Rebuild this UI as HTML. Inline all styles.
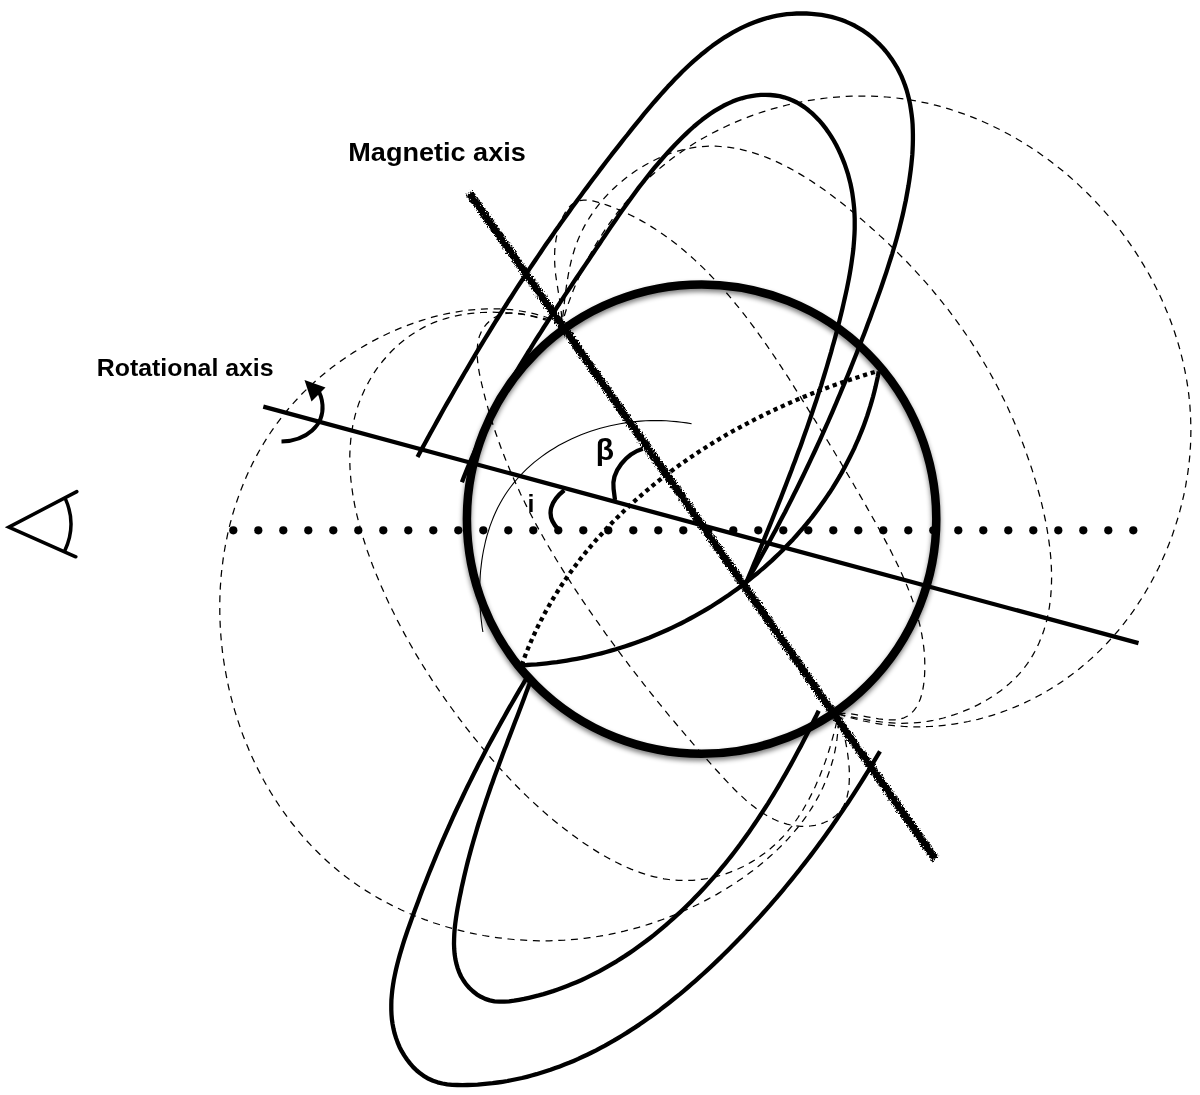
<!DOCTYPE html>
<html><head><meta charset="utf-8"><title>Oblique rotator</title>
<style>html,body{margin:0;padding:0;background:#fff}svg{display:block}</style></head>
<body>
<svg width="1200" height="1095" viewBox="0 0 1200 1095">
<defs>
<filter id="rough" x="-5%" y="-5%" width="110%" height="110%">
<feTurbulence type="fractalNoise" baseFrequency="0.4" numOctaves="2" seed="3" result="n"/>
<feDisplacementMap in="SourceGraphic" in2="n" scale="3.5" xChannelSelector="R" yChannelSelector="G"/>
</filter>
<filter id="fuzz" x="-5%" y="-5%" width="110%" height="110%">
<feTurbulence type="fractalNoise" baseFrequency="0.55" numOctaves="2" seed="11" result="n"/>
<feDisplacementMap in="SourceGraphic" in2="n" scale="5" xChannelSelector="R" yChannelSelector="G" result="d"/>
<feTurbulence type="fractalNoise" baseFrequency="0.7" numOctaves="1" seed="5" result="m"/>
<feColorMatrix in="m" type="matrix" values="0 0 0 0 0  0 0 0 0 0  0 0 0 0 0  0 0 0 9 -3.6" result="mask"/>
<feComposite in="d" in2="mask" operator="in"/>
</filter>
<filter id="shadow" x="-5%" y="-5%" width="110%" height="110%">
<feGaussianBlur in="SourceAlpha" stdDeviation="2.8" result="b"/>
<feOffset in="b" dx="0" dy="2.5" result="o"/>
<feComponentTransfer in="o" result="s"><feFuncA type="linear" slope="0.5"/></feComponentTransfer>
<feMerge><feMergeNode in="s"/><feMergeNode in="SourceGraphic"/></feMerge>
</filter>
</defs>
<rect width="1200" height="1095" fill="#fff"/>
<g fill="none" stroke="#000" stroke-width="1.25" stroke-dasharray="7 5.7" stroke-linejoin="round">
<path d="M562.0,323.5 L557.6,321.5 L553.1,319.7 L548.5,318.0 L544.0,316.5 L539.3,315.1 L534.7,313.9 L530.0,312.8 L525.3,311.8 L520.5,311.0 L515.8,310.3 L511.0,309.7 L506.1,309.3 L501.3,309.0 L496.4,308.8 L491.5,308.8 L486.6,308.9 L481.7,309.1 L476.8,309.4 L471.9,309.8 L466.9,310.4 L462.0,311.0 L457.1,311.8 L452.1,312.7 L447.2,313.6 L442.3,314.7 L437.3,315.9 L432.4,317.2 L427.5,318.6 L422.6,320.1 L417.8,321.6 L412.9,323.3 L408.1,325.1 L403.3,326.9 L398.5,328.9 L393.8,330.9 L389.1,333.0 L384.4,335.2 L379.7,337.5 L375.1,339.9 L370.5,342.3 L366.0,344.9 L361.5,347.5 L357.1,350.2 L352.7,352.9 L348.3,355.8 L344.1,358.7 L339.8,361.7 L335.6,364.7 L331.5,367.8 L327.5,371.0 L323.5,374.3 L319.5,377.6 L315.7,380.9 L311.9,384.4 L308.2,387.9 L304.5,391.4 L300.9,395.0 L297.5,398.7 L294.1,402.4 L290.7,406.2 L287.5,410.0 L284.3,413.9 L281.2,417.8 L278.2,421.8 L275.3,425.8 L272.4,429.9 L269.6,434.0 L266.9,438.1 L264.3,442.3 L261.8,446.6 L259.3,450.8 L256.9,455.1 L254.6,459.5 L252.3,463.9 L250.2,468.3 L248.1,472.8 L246.1,477.3 L244.2,481.8 L242.3,486.4 L240.5,491.0 L238.8,495.6 L237.2,500.2 L235.6,504.9 L234.1,509.6 L232.7,514.3 L231.4,519.1 L230.1,523.8 L228.9,528.6 L227.8,533.4 L226.8,538.3 L225.8,543.1 L224.9,548.0 L224.1,552.9 L223.3,557.8 L222.7,562.7 L222.0,567.6 L221.5,572.5 L221.0,577.5 L220.7,582.4 L220.3,587.4 L220.1,592.4 L219.9,597.3 L219.8,602.3 L219.8,607.3 L219.8,612.3 L219.9,617.3 L220.1,622.3 L220.3,627.2 L220.6,632.2 L221.0,637.2 L221.4,642.2 L222.0,647.2 L222.5,652.1 L223.2,657.1 L223.9,662.0 L224.7,667.0 L225.6,671.9 L226.5,676.8 L227.5,681.7 L228.5,686.6 L229.6,691.5 L230.8,696.3 L232.1,701.2 L233.4,706.0 L234.8,710.8 L236.3,715.6 L237.8,720.3 L239.4,725.1 L241.0,729.8 L242.7,734.5 L244.5,739.1 L246.4,743.7 L248.3,748.3 L250.2,752.9 L252.3,757.5 L254.4,762.0 L256.5,766.4 L258.8,770.9 L261.1,775.3 L263.4,779.7 L265.8,784.0 L268.3,788.3 L270.8,792.5 L273.4,796.7 L276.1,800.9 L278.8,805.0 L281.6,809.1 L284.5,813.2 L287.4,817.2 L290.3,821.1 L293.4,825.0 L296.5,828.8 L299.6,832.6 L302.8,836.4 L306.1,840.1 L309.4,843.7 L312.8,847.3 L316.3,850.8 L319.8,854.3 L323.3,857.7 L326.9,861.0 L330.6,864.3 L334.4,867.5 L338.2,870.7 L342.0,873.8 L345.9,876.8 L349.9,879.7 L353.9,882.6 L358.0,885.5 L362.1,888.2 L366.3,890.9 L370.6,893.5 L374.8,896.1 L379.2,898.6 L383.6,901.0 L388.0,903.3 L392.4,905.6 L397.0,907.8 L401.5,910.0 L406.1,912.0 L410.7,914.0 L415.4,916.0 L420.1,917.8 L424.8,919.6 L429.6,921.3 L434.3,923.0 L439.2,924.5 L444.0,926.1 L448.9,927.5 L453.8,928.8 L458.7,930.1 L463.6,931.3 L468.6,932.5 L473.6,933.6 L478.5,934.6 L483.5,935.5 L488.6,936.3 L493.6,937.1 L498.6,937.8 L503.7,938.4 L508.8,939.0 L513.8,939.5 L518.9,939.9 L524.0,940.2 L529.0,940.5 L534.1,940.7 L539.2,940.8 L544.3,940.8 L549.3,940.8 L554.4,940.6 L559.5,940.4 L564.5,940.2 L569.6,939.8 L574.6,939.4 L579.6,938.9 L584.6,938.3 L589.6,937.7 L594.6,937.0 L599.6,936.2 L604.5,935.3 L609.5,934.4 L614.4,933.4 L619.3,932.3 L624.2,931.2 L629.1,929.9 L633.9,928.7 L638.8,927.3 L643.6,925.9 L648.4,924.4 L653.2,922.8 L657.9,921.2 L662.6,919.5 L667.3,917.7 L672.0,915.9 L676.7,914.0 L681.3,912.0 L685.9,910.0 L690.5,907.9 L695.0,905.8 L699.5,903.6 L704.0,901.3 L708.4,898.9 L712.8,896.5 L717.2,894.1 L721.5,891.5 L725.9,888.9 L730.1,886.3 L734.4,883.6 L738.5,880.8 L742.7,877.9 L746.8,875.0 L750.8,872.1 L754.8,869.1 L758.7,866.0 L762.6,862.8 L766.4,859.6 L770.1,856.3 L773.8,853.0 L777.4,849.6 L780.9,846.2 L784.4,842.7 L787.8,839.1 L791.0,835.4 L794.3,831.7 L797.4,828.0 L800.4,824.2 L803.3,820.3 L806.2,816.3 L808.9,812.3 L811.5,808.3 L814.1,804.1 L816.5,799.9 L818.8,795.7 L821.0,791.4 L823.1,787.0 L825.0,782.6 L826.9,778.1 L828.6,773.5 L830.2,768.9 L831.6,764.2 L833.0,759.5 L834.2,754.7 L835.2,749.8 L836.1,744.9 L836.9,739.9 L837.5,734.8 L838.0,729.7 L838.3,724.5 L838.5,719.3 L838.5,714.0"/>
<path d="M838.5,714.0 L843.5,715.6 L848.6,717.1 L853.6,718.5 L858.6,719.8 L863.7,721.0 L868.7,722.0 L873.8,723.0 L878.8,723.8 L883.9,724.6 L888.9,725.2 L894.0,725.7 L899.0,726.1 L904.1,726.5 L909.1,726.7 L914.1,726.8 L919.1,726.8 L924.1,726.7 L929.1,726.5 L934.1,726.2 L939.0,725.8 L944.0,725.3 L948.9,724.8 L953.8,724.1 L958.7,723.3 L963.5,722.4 L968.4,721.5 L973.2,720.4 L978.0,719.3 L982.8,718.0 L987.5,716.7 L992.2,715.3 L996.9,713.8 L1001.6,712.2 L1006.2,710.5 L1010.8,708.7 L1015.3,706.9 L1019.9,704.9 L1024.4,702.9 L1028.8,700.8 L1033.2,698.6 L1037.6,696.3 L1041.9,694.0 L1046.2,691.5 L1050.4,689.0 L1054.6,686.4 L1058.8,683.7 L1062.9,681.0 L1066.9,678.1 L1070.9,675.2 L1074.9,672.3 L1078.8,669.2 L1082.6,666.1 L1086.4,662.9 L1090.1,659.6 L1093.8,656.3 L1097.4,652.9 L1101.0,649.4 L1104.5,645.8 L1107.9,642.2 L1111.3,638.5 L1114.6,634.8 L1117.9,631.0 L1121.1,627.1 L1124.2,623.2 L1127.2,619.2 L1130.2,615.2 L1133.2,611.1 L1136.0,606.9 L1138.8,602.7 L1141.6,598.5 L1144.2,594.2 L1146.8,589.8 L1149.4,585.4 L1151.8,581.0 L1154.2,576.5 L1156.5,572.0 L1158.8,567.5 L1160.9,562.9 L1163.0,558.3 L1165.1,553.6 L1167.0,548.9 L1168.9,544.2 L1170.7,539.5 L1172.5,534.7 L1174.1,529.9 L1175.7,525.0 L1177.2,520.2 L1178.7,515.3 L1180.0,510.4 L1181.3,505.5 L1182.5,500.6 L1183.7,495.6 L1184.7,490.7 L1185.7,485.7 L1186.5,480.7 L1187.4,475.7 L1188.1,470.7 L1188.7,465.7 L1189.3,460.7 L1189.8,455.7 L1190.1,450.6 L1190.5,445.6 L1190.7,440.6 L1190.8,435.6 L1190.9,430.6 L1190.8,425.6 L1190.7,420.6 L1190.5,415.6 L1190.2,410.6 L1189.9,405.6 L1189.4,400.7 L1188.9,395.7 L1188.3,390.8 L1187.6,385.9 L1186.8,380.9 L1185.9,376.0 L1185.0,371.2 L1184.0,366.3 L1182.9,361.4 L1181.7,356.6 L1180.5,351.8 L1179.2,347.0 L1177.8,342.2 L1176.3,337.5 L1174.8,332.7 L1173.2,328.0 L1171.5,323.3 L1169.8,318.7 L1167.9,314.0 L1166.0,309.4 L1164.1,304.8 L1162.1,300.3 L1160.0,295.7 L1157.8,291.2 L1155.6,286.8 L1153.3,282.3 L1151.0,277.9 L1148.6,273.5 L1146.1,269.2 L1143.5,264.9 L1140.9,260.6 L1138.3,256.4 L1135.6,252.2 L1132.8,248.0 L1130.0,243.9 L1127.1,239.8 L1124.1,235.7 L1121.1,231.7 L1118.1,227.7 L1115.0,223.8 L1111.8,219.9 L1108.6,216.1 L1105.3,212.3 L1102.0,208.6 L1098.6,204.9 L1095.2,201.2 L1091.7,197.6 L1088.2,194.0 L1084.6,190.5 L1081.0,187.1 L1077.4,183.6 L1073.6,180.3 L1069.9,177.0 L1066.1,173.7 L1062.3,170.5 L1058.4,167.4 L1054.5,164.3 L1050.5,161.3 L1046.5,158.3 L1042.4,155.4 L1038.4,152.5 L1034.2,149.8 L1030.1,147.0 L1025.9,144.4 L1021.7,141.7 L1017.4,139.2 L1013.1,136.7 L1008.7,134.3 L1004.4,132.0 L1000.0,129.7 L995.5,127.5 L991.1,125.3 L986.6,123.2 L982.1,121.2 L977.5,119.3 L972.9,117.4 L968.3,115.6 L963.7,113.9 L959.0,112.3 L954.3,110.7 L949.6,109.2 L944.9,107.8 L940.2,106.4 L935.4,105.2 L930.6,104.0 L925.8,102.9 L920.9,101.9 L916.1,100.9 L911.2,100.1 L906.3,99.3 L901.4,98.6 L896.4,98.0 L891.5,97.5 L886.5,97.0 L881.6,96.7 L876.6,96.4 L871.6,96.2 L866.6,96.1 L861.6,96.0 L856.6,96.1 L851.6,96.2 L846.6,96.4 L841.6,96.7 L836.6,97.1 L831.6,97.5 L826.6,98.0 L821.6,98.6 L816.6,99.3 L811.7,100.1 L806.7,100.9 L801.7,101.8 L796.8,102.8 L791.9,103.9 L787.0,105.0 L782.1,106.3 L777.2,107.6 L772.4,108.9 L767.5,110.4 L762.7,111.9 L757.9,113.5 L753.2,115.1 L748.5,116.9 L743.8,118.7 L739.1,120.6 L734.5,122.5 L729.9,124.6 L725.3,126.7 L720.8,128.8 L716.3,131.1 L711.8,133.4 L707.4,135.8 L703.0,138.2 L698.7,140.7 L694.4,143.3 L690.2,146.0 L686.0,148.7 L681.9,151.5 L677.8,154.4 L673.7,157.3 L669.8,160.3 L665.8,163.4 L662.0,166.5 L658.2,169.7 L654.4,173.0 L650.7,176.3 L647.1,179.7 L643.5,183.1 L640.0,186.7 L636.6,190.2 L633.2,193.9 L629.9,197.6 L626.6,201.3 L623.4,205.1 L620.3,209.0 L617.2,212.9 L614.2,216.8 L611.3,220.8 L608.4,224.9 L605.6,229.0 L602.9,233.1 L600.2,237.3 L597.6,241.6 L595.0,245.8 L592.6,250.2 L590.1,254.5 L587.8,258.9 L585.5,263.3 L583.3,267.8 L581.1,272.3 L579.1,276.8 L577.1,281.4 L575.1,285.9 L573.2,290.6 L571.4,295.2 L569.7,299.9 L568.0,304.5 L566.4,309.3 L564.9,314.0 L563.4,318.7 L562.0,323.5"/>
<path d="M562.0,323.5 L557.3,322.0 L552.6,320.7 L547.8,319.4 L542.9,318.2 L537.9,317.1 L532.9,316.1 L527.9,315.2 L522.8,314.4 L517.6,313.8 L512.5,313.2 L507.3,312.8 L502.1,312.4 L496.9,312.3 L491.7,312.2 L486.5,312.3 L481.4,312.5 L476.2,312.9 L471.1,313.4 L466.1,314.0 L461.0,314.9 L456.1,315.8 L451.2,317.0 L446.4,318.3 L441.6,319.8 L437.0,321.4 L432.4,323.2 L427.9,325.2 L423.6,327.4 L419.3,329.8 L415.1,332.3 L411.1,334.9 L407.1,337.7 L403.3,340.7 L399.6,343.7 L396.0,347.0 L392.5,350.3 L389.1,353.8 L385.9,357.4 L382.8,361.0 L379.8,364.8 L376.9,368.7 L374.2,372.7 L371.6,376.8 L369.2,381.0 L366.9,385.2 L364.7,389.5 L362.7,393.9 L360.8,398.4 L359.0,402.9 L357.5,407.4 L356.0,412.1 L354.8,416.7 L353.7,421.4 L352.7,426.1 L351.9,430.9 L351.2,435.7 L350.7,440.5 L350.3,445.3 L350.0,450.2 L349.8,455.1 L349.8,460.1 L349.9,465.0 L350.1,470.0 L350.5,475.0 L350.9,480.0 L351.5,485.0 L352.2,490.0 L352.9,495.0 L353.8,500.0 L354.7,505.1 L355.8,510.1 L356.9,515.1 L358.2,520.2 L359.5,525.2 L360.9,530.2 L362.3,535.2 L363.9,540.2 L365.5,545.2 L367.1,550.2 L368.9,555.1 L370.7,560.1 L372.5,565.0 L374.4,569.8 L376.4,574.7 L378.4,579.5 L380.4,584.3 L382.5,589.1 L384.6,593.8 L386.7,598.5 L388.9,603.2 L391.1,607.8 L393.4,612.3 L395.6,616.9 L397.9,621.4 L400.2,625.8 L402.5,630.2 L404.9,634.6 L407.3,639.0 L409.7,643.3 L412.2,647.6 L414.6,651.9 L417.1,656.1 L419.7,660.3 L422.2,664.5 L424.8,668.7 L427.4,672.8 L430.1,676.9 L432.7,681.0 L435.4,685.0 L438.2,689.1 L440.9,693.1 L443.7,697.1 L446.5,701.1 L449.3,705.1 L452.2,709.0 L455.1,713.0 L458.0,716.9 L461.0,720.8 L463.9,724.7 L466.9,728.6 L470.0,732.5 L473.0,736.4 L476.1,740.2 L479.2,744.1 L482.4,747.9 L485.6,751.7 L488.8,755.5 L492.0,759.3 L495.3,763.1 L498.6,766.8 L502.0,770.6 L505.4,774.2 L508.8,777.9 L512.3,781.6 L515.8,785.2 L519.3,788.8 L522.9,792.4 L526.5,795.9 L530.2,799.4 L533.9,802.9 L537.6,806.3 L541.4,809.7 L545.2,813.1 L549.1,816.4 L553.0,819.7 L557.0,822.9 L561.0,826.2 L565.0,829.3 L569.1,832.4 L573.3,835.5 L577.5,838.6 L581.7,841.6 L586.0,844.5 L590.3,847.3 L594.7,850.1 L599.1,852.9 L603.6,855.5 L608.1,858.0 L612.6,860.5 L617.2,862.8 L621.7,865.0 L626.3,867.1 L631.0,869.1 L635.6,870.9 L640.3,872.6 L645.0,874.2 L649.7,875.6 L654.5,876.8 L659.2,877.9 L664.0,878.8 L668.7,879.5 L673.5,880.0 L678.3,880.4 L683.0,880.5 L687.8,880.5 L692.5,880.3 L697.3,879.9 L702.0,879.3 L706.7,878.6 L711.3,877.7 L716.0,876.6 L720.5,875.4 L725.1,874.0 L729.6,872.4 L734.0,870.7 L738.4,868.8 L742.8,866.7 L747.0,864.5 L751.2,862.1 L755.4,859.6 L759.4,856.9 L763.4,854.1 L767.3,851.1 L771.1,848.0 L774.8,844.7 L778.4,841.3 L781.9,837.8 L785.3,834.1 L788.5,830.2 L791.7,826.3 L794.8,822.2 L797.7,818.0 L800.5,813.7 L803.3,809.3 L805.9,804.8 L808.4,800.3 L810.8,795.6 L813.2,790.9 L815.4,786.2 L817.5,781.4 L819.6,776.5 L821.5,771.6 L823.4,766.8 L825.2,761.9 L826.9,756.9 L828.5,752.0 L830.0,747.2 L831.4,742.3 L832.8,737.4 L834.1,732.6 L835.3,727.9 L836.4,723.2 L837.5,718.6 L838.5,714.0"/>
<path d="M838.5,714.0 L843.1,715.1 L847.8,716.1 L852.5,717.1 L857.3,718.1 L862.1,719.0 L867.0,719.9 L871.9,720.7 L876.8,721.4 L881.8,722.0 L886.8,722.5 L891.8,722.9 L896.9,723.2 L902.0,723.3 L907.1,723.2 L912.3,723.0 L917.4,722.6 L922.6,722.1 L927.8,721.3 L933.0,720.4 L938.2,719.2 L943.4,718.0 L948.6,716.5 L953.7,714.9 L958.7,713.2 L963.7,711.2 L968.7,709.2 L973.5,707.0 L978.3,704.6 L982.9,702.1 L987.5,699.5 L991.9,696.8 L996.2,693.9 L1000.4,690.9 L1004.4,687.8 L1008.3,684.6 L1011.9,681.3 L1015.4,677.9 L1018.8,674.4 L1021.9,670.8 L1024.9,667.0 L1027.6,663.3 L1030.3,659.4 L1032.7,655.4 L1035.0,651.3 L1037.1,647.2 L1039.0,643.0 L1040.8,638.7 L1042.5,634.4 L1044.0,630.0 L1045.3,625.5 L1046.6,621.0 L1047.6,616.4 L1048.6,611.7 L1049.4,607.0 L1050.0,602.3 L1050.6,597.5 L1051.0,592.6 L1051.3,587.8 L1051.5,582.9 L1051.6,577.9 L1051.5,572.9 L1051.4,567.9 L1051.1,562.9 L1050.8,557.8 L1050.3,552.8 L1049.8,547.7 L1049.1,542.6 L1048.4,537.5 L1047.6,532.3 L1046.7,527.2 L1045.8,522.1 L1044.7,517.0 L1043.6,511.9 L1042.4,506.7 L1041.2,501.6 L1039.9,496.5 L1038.5,491.5 L1037.1,486.4 L1035.7,481.4 L1034.1,476.4 L1032.6,471.4 L1031.0,466.5 L1029.3,461.5 L1027.6,456.7 L1025.9,451.8 L1024.2,447.0 L1022.4,442.2 L1020.5,437.5 L1018.6,432.8 L1016.7,428.1 L1014.8,423.4 L1012.8,418.8 L1010.7,414.2 L1008.7,409.7 L1006.6,405.1 L1004.4,400.6 L1002.2,396.2 L1000.0,391.7 L997.7,387.3 L995.4,382.9 L993.1,378.6 L990.7,374.3 L988.3,370.0 L985.8,365.7 L983.3,361.5 L980.8,357.3 L978.2,353.1 L975.6,348.9 L973.0,344.8 L970.3,340.7 L967.6,336.6 L964.8,332.6 L962.0,328.5 L959.2,324.6 L956.3,320.6 L953.4,316.6 L950.4,312.7 L947.5,308.8 L944.4,304.9 L941.4,301.1 L938.3,297.3 L935.1,293.5 L932.0,289.7 L928.7,285.9 L925.5,282.2 L922.2,278.5 L918.9,274.8 L915.5,271.1 L912.1,267.5 L908.7,263.8 L905.2,260.2 L901.7,256.7 L898.1,253.1 L894.5,249.6 L890.9,246.0 L887.3,242.5 L883.6,239.0 L879.8,235.6 L876.1,232.1 L872.2,228.7 L868.4,225.3 L864.5,221.9 L860.6,218.5 L856.6,215.2 L852.7,211.9 L848.6,208.6 L844.6,205.3 L840.5,202.0 L836.3,198.9 L832.2,195.7 L828.0,192.6 L823.8,189.6 L819.5,186.6 L815.2,183.7 L810.9,180.8 L806.6,178.1 L802.2,175.4 L797.8,172.8 L793.4,170.3 L789.0,167.9 L784.5,165.6 L780.1,163.4 L775.6,161.3 L771.0,159.3 L766.5,157.4 L761.9,155.7 L757.4,154.1 L752.8,152.6 L748.1,151.3 L743.5,150.1 L738.9,149.0 L734.2,148.2 L729.5,147.4 L724.9,146.9 L720.2,146.5 L715.5,146.2 L710.7,146.2 L706.0,146.3 L701.3,146.6 L696.5,147.1 L691.8,147.9 L687.0,148.8 L682.3,149.9 L677.6,151.1 L672.8,152.6 L668.2,154.2 L663.5,156.1 L658.9,158.0 L654.3,160.2 L649.8,162.5 L645.3,165.0 L640.9,167.6 L636.5,170.3 L632.3,173.2 L628.1,176.3 L624.0,179.5 L620.0,182.8 L616.1,186.2 L612.3,189.8 L608.7,193.4 L605.1,197.2 L601.7,201.1 L598.4,205.1 L595.3,209.2 L592.3,213.4 L589.5,217.6 L586.8,222.0 L584.3,226.4 L582.0,231.0 L579.8,235.6 L577.8,240.2 L576.0,245.0 L574.4,249.7 L572.9,254.6 L571.6,259.4 L570.4,264.3 L569.3,269.3 L568.4,274.2 L567.5,279.2 L566.7,284.2 L566.0,289.2 L565.3,294.1 L564.7,299.1 L564.2,304.0 L563.6,309.0 L563.1,313.9 L562.5,318.7 L562.0,323.5"/>
<path d="M562.0,323.5 L557.7,322.9 L553.1,322.0 L548.2,320.7 L543.2,319.3 L538.0,317.8 L532.7,316.3 L527.3,315.0 L522.0,313.9 L516.7,313.2 L511.5,313.0 L506.5,313.3 L501.8,314.4 L497.2,316.1 L493.1,318.4 L489.3,321.3 L486.1,324.5 L483.4,328.1 L481.2,331.9 L479.5,335.9 L478.3,340.2 L477.6,344.6 L477.2,349.2 L477.1,353.9 L477.4,358.8 L477.9,363.7 L478.6,368.7 L479.5,373.8 L480.6,378.8 L481.7,383.9 L482.9,388.9 L484.1,393.9 L485.4,398.9 L486.8,403.9 L488.2,408.8 L489.6,413.8 L491.1,418.7 L492.6,423.5 L494.2,428.4 L495.8,433.2 L497.5,438.0 L499.2,442.8 L500.9,447.5 L502.7,452.2 L504.6,457.0 L506.4,461.6 L508.4,466.3 L510.3,471.0 L512.3,475.6 L514.3,480.2 L516.4,484.8 L518.5,489.3 L520.6,493.9 L522.8,498.4 L525.0,502.9 L527.2,507.4 L529.5,511.8 L531.8,516.3 L534.1,520.7 L536.5,525.1 L538.9,529.5 L541.3,533.8 L543.8,538.2 L546.2,542.5 L548.7,546.8 L551.3,551.1 L553.8,555.4 L556.4,559.7 L559.0,563.9 L561.6,568.1 L564.2,572.4 L566.9,576.6 L569.6,580.7 L572.3,584.9 L575.0,589.1 L577.7,593.2 L580.5,597.3 L583.2,601.4 L586.0,605.5 L588.8,609.6 L591.6,613.6 L594.4,617.7 L597.3,621.7 L600.1,625.7 L603.0,629.8 L605.8,633.8 L608.7,637.7 L611.6,641.7 L614.5,645.7 L617.4,649.6 L620.4,653.6 L623.3,657.5 L626.3,661.4 L629.2,665.3 L632.2,669.3 L635.2,673.2 L638.2,677.1 L641.3,680.9 L644.3,684.8 L647.4,688.7 L650.5,692.6 L653.6,696.5 L656.7,700.3 L659.8,704.2 L663.0,708.0 L666.1,711.9 L669.3,715.8 L672.6,719.6 L675.8,723.5 L679.0,727.3 L682.3,731.2 L685.6,735.1 L688.9,738.9 L692.3,742.8 L695.6,746.7 L699.0,750.5 L702.4,754.4 L705.9,758.3 L709.3,762.2 L712.8,766.1 L716.3,770.0 L719.9,773.9 L723.4,777.8 L727.0,781.6 L730.7,785.4 L734.3,789.2 L738.0,792.9 L741.8,796.4 L745.6,799.9 L749.5,803.2 L753.4,806.3 L757.3,809.3 L761.4,812.1 L765.5,814.7 L769.6,817.1 L773.9,819.3 L778.2,821.2 L782.5,822.8 L787.0,824.1 L791.5,825.2 L796.2,825.9 L800.9,826.3 L805.6,826.3 L810.3,826.0 L814.9,825.3 L819.4,824.2 L823.7,822.8 L827.8,821.0 L831.7,818.7 L835.3,816.1 L838.5,813.0 L841.4,809.4 L843.8,805.5 L845.7,801.1 L847.2,796.2 L848.3,791.1 L849.0,785.7 L849.3,780.0 L849.4,774.2 L849.2,768.3 L848.7,762.3 L848.0,756.4 L847.2,750.6 L846.2,744.9 L845.1,739.4 L844.0,734.1 L842.8,729.2 L841.7,724.7 L840.5,720.6 L839.5,717.0 L838.5,714.0"/>
<path d="M838.5,714.0 L841.9,713.4 L846.1,713.4 L850.7,713.9 L855.9,714.7 L861.3,715.7 L867.0,716.8 L872.8,717.8 L878.6,718.8 L884.4,719.5 L889.9,719.9 L895.1,719.8 L899.8,719.1 L904.1,717.8 L907.8,715.9 L911.1,713.4 L914.0,710.4 L916.5,707.0 L918.6,703.1 L920.3,699.0 L921.7,694.5 L922.8,689.8 L923.6,684.9 L924.2,679.9 L924.6,674.8 L924.8,669.7 L924.8,664.6 L924.7,659.5 L924.4,654.4 L924.0,649.4 L923.4,644.4 L922.6,639.4 L921.8,634.4 L920.8,629.4 L919.7,624.5 L918.4,619.6 L917.1,614.7 L915.7,609.8 L914.1,605.0 L912.5,600.1 L910.7,595.3 L908.9,590.6 L907.0,585.8 L905.0,581.1 L903.0,576.4 L900.9,571.7 L898.7,567.0 L896.5,562.4 L894.2,557.8 L891.9,553.2 L889.6,548.6 L887.2,544.1 L884.8,539.6 L882.4,535.1 L880.0,530.7 L877.5,526.3 L875.1,521.9 L872.6,517.5 L870.2,513.2 L867.7,508.9 L865.3,504.6 L862.9,500.4 L860.4,496.1 L858.0,491.9 L855.5,487.7 L853.1,483.5 L850.6,479.3 L848.2,475.2 L845.7,471.0 L843.2,466.9 L840.8,462.7 L838.3,458.6 L835.8,454.5 L833.3,450.3 L830.8,446.2 L828.3,442.0 L825.7,437.9 L823.2,433.7 L820.6,429.6 L818.1,425.4 L815.5,421.2 L812.9,417.0 L810.3,412.8 L807.7,408.6 L805.1,404.3 L802.4,400.1 L799.8,395.8 L797.1,391.6 L794.4,387.3 L791.7,383.0 L789.0,378.7 L786.2,374.5 L783.4,370.2 L780.6,365.9 L777.8,361.6 L775.0,357.4 L772.1,353.1 L769.2,348.9 L766.3,344.7 L763.4,340.5 L760.4,336.3 L757.4,332.2 L754.4,328.0 L751.3,323.9 L748.2,319.8 L745.1,315.7 L742.0,311.7 L738.8,307.7 L735.6,303.8 L732.4,299.8 L729.1,295.9 L725.8,292.1 L722.5,288.3 L719.1,284.5 L715.7,280.8 L712.2,277.1 L708.7,273.5 L705.2,269.9 L701.6,266.4 L698.0,263.0 L694.4,259.6 L690.7,256.2 L686.9,253.0 L683.2,249.8 L679.4,246.6 L675.5,243.5 L671.6,240.5 L667.6,237.6 L663.6,234.7 L659.6,231.9 L655.5,229.2 L651.3,226.6 L647.1,224.0 L642.9,221.6 L638.6,219.2 L634.2,216.9 L629.8,214.7 L625.4,212.6 L620.9,210.6 L616.3,208.7 L611.7,206.8 L607.0,205.1 L602.3,203.5 L597.5,202.1 L592.8,200.9 L588.2,200.2 L583.7,200.1 L579.4,200.7 L575.5,202.1 L571.8,204.5 L568.5,207.8 L565.6,211.9 L563.0,216.5 L560.8,221.7 L558.9,227.1 L557.4,232.8 L556.2,238.4 L555.4,244.0 L554.8,249.4 L554.6,254.7 L554.6,259.9 L554.8,265.0 L555.2,270.0 L555.7,274.9 L556.4,279.8 L557.2,284.6 L557.9,289.4 L558.7,294.2 L559.5,299.0 L560.3,303.8 L560.9,308.7 L561.4,313.5 L561.8,318.5 L562.0,323.5"/>
</g>
<path d="M691.6,423.8 L686.6,422.9 L681.5,422.2 L676.4,421.6 L671.3,421.2 L666.2,420.8 L661.1,420.6 L655.9,420.6 L650.8,420.6 L645.7,420.8 L640.5,421.1 L635.4,421.6 L630.3,422.2 L625.3,422.9 L620.2,423.7 L615.2,424.7 L610.2,425.8 L605.2,427.0 L600.3,428.3 L595.4,429.7 L590.6,431.3 L585.8,433.0 L581.1,434.8 L576.5,436.8 L571.9,438.8 L567.3,441.0 L562.9,443.2 L558.5,445.6 L554.2,448.2 L550.0,450.8 L545.9,453.5 L541.9,456.4 L538.0,459.4 L534.1,462.4 L530.4,465.6 L526.8,468.9 L523.3,472.3 L520.0,475.8 L516.7,479.5 L513.6,483.2 L510.6,487.0 L507.7,491.0 L505.0,495.0 L502.4,499.2 L500.0,503.4 L497.7,507.8 L495.6,512.2 L493.6,516.8 L491.8,521.4 L490.0,526.1 L488.5,530.8 L487.0,535.6 L485.7,540.5 L484.6,545.5 L483.5,550.5 L482.6,555.5 L481.8,560.6 L481.2,565.6 L480.6,570.8 L480.2,575.9 L479.9,581.1 L479.7,586.2 L479.6,591.4 L479.7,596.5 L479.8,601.7 L480.1,606.8 L480.4,611.9 L480.9,617.0 L481.5,622.0 L482.1,627.0 L482.9,632.0" fill="none" stroke="#000" stroke-width="1.1"/>
<g fill="#000"><circle cx="233.3" cy="530.3" r="4.1"/><circle cx="258.3" cy="530.3" r="4.1"/><circle cx="283.3" cy="530.3" r="4.1"/><circle cx="308.3" cy="530.3" r="4.1"/><circle cx="333.3" cy="530.3" r="4.1"/><circle cx="358.3" cy="530.3" r="4.1"/><circle cx="383.3" cy="530.3" r="4.1"/><circle cx="408.3" cy="530.3" r="4.1"/><circle cx="433.3" cy="530.3" r="4.1"/><circle cx="458.3" cy="530.3" r="4.1"/><circle cx="483.3" cy="530.3" r="4.1"/><circle cx="508.3" cy="530.3" r="4.1"/><circle cx="533.3" cy="530.3" r="4.1"/><circle cx="558.3" cy="530.3" r="4.1"/><circle cx="583.3" cy="530.3" r="4.1"/><circle cx="608.3" cy="530.3" r="4.1"/><circle cx="633.3" cy="530.3" r="4.1"/><circle cx="658.3" cy="530.3" r="4.1"/><circle cx="683.3" cy="530.3" r="4.1"/><circle cx="708.3" cy="530.3" r="4.1"/><circle cx="733.3" cy="530.3" r="4.1"/><circle cx="758.3" cy="530.3" r="4.1"/><circle cx="783.3" cy="530.3" r="4.1"/><circle cx="808.3" cy="530.3" r="4.1"/><circle cx="833.3" cy="530.3" r="4.1"/><circle cx="858.3" cy="530.3" r="4.1"/><circle cx="883.3" cy="530.3" r="4.1"/><circle cx="908.3" cy="530.3" r="4.1"/><circle cx="933.3" cy="530.3" r="4.1"/><circle cx="958.3" cy="530.3" r="4.1"/><circle cx="983.3" cy="530.3" r="4.1"/><circle cx="1008.3" cy="530.3" r="4.1"/><circle cx="1033.3" cy="530.3" r="4.1"/><circle cx="1058.3" cy="530.3" r="4.1"/><circle cx="1083.3" cy="530.3" r="4.1"/><circle cx="1108.3" cy="530.3" r="4.1"/><circle cx="1133.3" cy="530.3" r="4.1"/></g>
<circle cx="701.6" cy="519.1" r="234.7" fill="none" stroke="#000" stroke-width="8.5" filter="url(#shadow)"/>
<g fill="none" stroke="#000" stroke-width="4.3" stroke-linejoin="round">
<path d="M417.5,457.0 L419.9,452.5 L422.4,447.9 L424.8,443.4 L427.3,438.9 L429.7,434.4 L432.2,430.0 L434.7,425.5 L437.1,421.1 L439.6,416.6 L442.0,412.2 L444.5,407.8 L447.0,403.4 L449.5,399.1 L452.0,394.7 L454.5,390.3 L457.0,386.0 L459.5,381.7 L462.0,377.4 L464.5,373.0 L467.0,368.8 L469.5,364.5 L472.1,360.2 L474.6,355.9 L477.1,351.7 L479.7,347.4 L482.3,343.2 L484.8,339.0 L487.4,334.8 L490.0,330.6 L492.6,326.4 L495.2,322.2 L497.8,318.0 L500.4,313.8 L503.0,309.6 L505.7,305.5 L508.3,301.3 L511.0,297.2 L513.6,293.1 L516.3,288.9 L519.0,284.8 L521.7,280.7 L524.4,276.6 L527.1,272.5 L529.8,268.4 L532.6,264.3 L535.3,260.2 L538.1,256.1 L540.9,252.0 L543.6,247.9 L546.4,243.8 L549.3,239.8 L552.1,235.7 L554.9,231.6 L557.8,227.6 L560.6,223.5 L563.5,219.5 L566.4,215.4 L569.3,211.4 L572.2,207.3 L575.2,203.3 L578.1,199.2 L581.1,195.2 L584.1,191.1 L587.1,187.1 L590.1,183.0 L593.1,179.0 L596.2,175.0 L599.2,170.9 L602.3,166.9 L605.4,162.8 L608.5,158.8 L611.6,154.7 L614.8,150.7 L618.0,146.6 L621.1,142.6 L624.3,138.5 L627.6,134.5 L630.8,130.4 L634.0,126.4 L637.3,122.3 L640.6,118.3 L643.9,114.2 L647.3,110.2 L650.7,106.2 L654.0,102.2 L657.5,98.3 L660.9,94.4 L664.4,90.5 L667.9,86.6 L671.4,82.9 L675.0,79.1 L678.6,75.4 L682.2,71.8 L685.9,68.3 L689.6,64.8 L693.3,61.4 L697.1,58.1 L700.9,54.8 L704.8,51.7 L708.6,48.6 L712.6,45.6 L716.6,42.8 L720.6,40.0 L724.6,37.3 L728.8,34.8 L732.9,32.4 L737.1,30.1 L741.4,27.9 L745.7,25.9 L750.0,24.0 L754.4,22.2 L758.9,20.6 L763.4,19.1 L768.0,17.8 L772.6,16.7 L777.3,15.7 L782.0,14.9 L786.8,14.2 L791.7,13.8 L796.6,13.5 L801.6,13.4 L806.6,13.5 L811.6,13.8 L816.6,14.3 L821.6,14.9 L826.6,15.8 L831.5,16.9 L836.3,18.3 L841.1,19.8 L845.8,21.6 L850.4,23.6 L854.9,25.8 L859.2,28.3 L863.5,30.9 L867.5,33.8 L871.5,36.9 L875.2,40.2 L878.8,43.6 L882.3,47.2 L885.6,51.0 L888.7,54.9 L891.6,58.9 L894.3,63.1 L896.9,67.3 L899.2,71.7 L901.4,76.1 L903.3,80.7 L905.0,85.3 L906.6,90.0 L907.9,94.7 L909.1,99.5 L910.1,104.4 L910.9,109.3 L911.6,114.2 L912.2,119.2 L912.6,124.2 L912.8,129.3 L912.9,134.4 L912.9,139.5 L912.8,144.6 L912.6,149.7 L912.3,154.9 L911.8,160.0 L911.3,165.1 L910.7,170.3 L910.0,175.4 L909.3,180.4 L908.5,185.5 L907.6,190.5 L906.7,195.5 L905.8,200.5 L904.7,205.5 L903.7,210.4 L902.6,215.3 L901.4,220.2 L900.2,225.0 L899.0,229.9 L897.7,234.7 L896.4,239.5 L895.0,244.3 L893.6,249.0 L892.2,253.8 L890.7,258.5 L889.2,263.2 L887.7,267.9 L886.2,272.6 L884.6,277.3 L883.0,282.0 L881.4,286.7 L879.8,291.4 L878.1,296.1 L876.4,300.7 L874.7,305.4 L873.0,310.0 L871.3,314.7 L869.6,319.4 L867.8,324.0 L866.1,328.7 L864.3,333.4 L862.5,338.0 L860.7,342.7 L858.9,347.3 L857.1,352.0 L855.2,356.7 L853.4,361.3 L851.5,366.0 L849.7,370.6 L847.8,375.2 L845.9,379.9 L844.0,384.5 L842.0,389.2 L840.1,393.8 L838.1,398.4 L836.2,403.0 L834.2,407.7 L832.2,412.3 L830.2,416.9 L828.2,421.5 L826.1,426.1 L824.1,430.7 L822.0,435.3 L820.0,439.8 L817.9,444.4 L815.8,449.0 L813.7,453.5 L811.5,458.1 L809.4,462.6 L807.2,467.2 L805.1,471.7 L802.9,476.2 L800.7,480.8 L798.5,485.3 L796.3,489.8 L794.0,494.3 L791.8,498.8 L789.5,503.2 L787.2,507.7 L785.0,512.2 L782.7,516.6 L780.3,521.0 L778.0,525.5 L775.7,529.9 L773.3,534.3 L770.9,538.7 L768.6,543.1 L766.2,547.4 L763.8,551.8 L761.3,556.2 L758.9,560.5 L756.4,564.8 L754.0,569.1 L751.5,573.4 L749.0,577.7 L746.5,582.0"/>
<path d="M461.9,482.3 L463.7,477.6 L465.5,473.0 L467.4,468.4 L469.3,463.8 L471.3,459.2 L473.2,454.6 L475.3,450.0 L477.3,445.5 L479.4,440.9 L481.6,436.4 L483.7,431.9 L486.0,427.4 L488.2,423.0 L490.5,418.5 L492.8,414.1 L495.1,409.6 L497.4,405.2 L499.8,400.8 L502.2,396.4 L504.7,392.0 L507.1,387.6 L509.6,383.3 L512.1,378.9 L514.7,374.6 L517.2,370.3 L519.8,365.9 L522.4,361.6 L525.0,357.3 L527.6,353.0 L530.3,348.8 L532.9,344.5 L535.6,340.2 L538.3,336.0 L541.0,331.8 L543.7,327.5 L546.5,323.3 L549.2,319.1 L551.9,314.9 L554.7,310.7 L557.5,306.5 L560.2,302.3 L563.0,298.1 L565.8,293.9 L568.6,289.8 L571.4,285.6 L574.1,281.4 L576.9,277.3 L579.7,273.2 L582.5,269.0 L585.3,264.9 L588.1,260.7 L590.9,256.6 L593.6,252.5 L596.4,248.4 L599.2,244.3 L601.9,240.1 L604.7,236.0 L607.5,231.9 L610.2,227.8 L613.0,223.8 L615.8,219.7 L618.6,215.6 L621.4,211.5 L624.3,207.5 L627.2,203.5 L630.1,199.4 L633.0,195.4 L635.9,191.4 L638.9,187.4 L642.0,183.5 L645.1,179.5 L648.2,175.6 L651.3,171.6 L654.5,167.7 L657.8,163.8 L661.1,160.0 L664.5,156.1 L668.0,152.3 L671.5,148.5 L675.0,144.7 L678.7,141.0 L682.4,137.3 L686.2,133.6 L690.0,130.0 L693.9,126.5 L697.9,123.1 L702.0,119.8 L706.1,116.7 L710.3,113.7 L714.6,110.9 L719.0,108.3 L723.4,105.8 L727.9,103.6 L732.4,101.6 L737.0,99.8 L741.7,98.3 L746.5,97.0 L751.3,96.1 L756.0,95.4 L760.8,94.9 L765.6,94.8 L770.3,95.0 L775.0,95.5 L779.6,96.2 L784.1,97.3 L788.5,98.8 L792.7,100.5 L796.9,102.5 L800.9,104.9 L804.8,107.4 L808.5,110.3 L812.2,113.4 L815.6,116.7 L819.0,120.2 L822.2,123.9 L825.3,127.8 L828.2,131.9 L831.0,136.1 L833.7,140.5 L836.2,145.0 L838.5,149.6 L840.7,154.3 L842.7,159.1 L844.6,163.9 L846.3,168.9 L847.9,173.8 L849.2,178.8 L850.5,183.8 L851.5,188.7 L852.4,193.7 L853.1,198.7 L853.7,203.7 L854.2,208.8 L854.5,213.8 L854.7,218.8 L854.7,223.8 L854.7,228.8 L854.5,233.8 L854.2,238.8 L853.8,243.8 L853.4,248.8 L852.8,253.8 L852.1,258.8 L851.4,263.8 L850.6,268.8 L849.8,273.7 L848.9,278.7 L847.9,283.7 L846.9,288.6 L845.8,293.6 L844.7,298.5 L843.6,303.4 L842.5,308.3 L841.3,313.2 L840.1,318.1 L838.9,323.0 L837.6,327.9 L836.4,332.7 L835.1,337.6 L833.8,342.4 L832.4,347.2 L831.1,352.1 L829.7,356.9 L828.3,361.7 L826.9,366.5 L825.5,371.2 L824.0,376.0 L822.5,380.8 L821.1,385.6 L819.5,390.3 L818.0,395.1 L816.5,399.8 L814.9,404.5 L813.3,409.3 L811.7,414.0 L810.1,418.7 L808.5,423.4 L806.9,428.1 L805.2,432.8 L803.5,437.5 L801.9,442.2 L800.2,446.9 L798.4,451.6 L796.7,456.3 L795.0,460.9 L793.2,465.6 L791.5,470.3 L789.7,474.9 L787.9,479.6 L786.1,484.3 L784.3,488.9 L782.5,493.6 L780.7,498.2 L778.8,502.9 L777.0,507.5 L775.1,512.2 L773.3,516.8 L771.4,521.5 L769.5,526.1 L767.6,530.8 L765.7,535.4 L763.8,540.1 L761.9,544.7 L760.0,549.4 L758.1,554.0 L756.2,558.7 L754.2,563.4 L752.3,568.0 L750.4,572.7 L748.4,577.3 L746.5,582.0"/>
<path d="M521.7,665.2 L526.7,665.0 L531.8,664.6 L536.8,664.3 L541.8,663.8 L546.8,663.3 L551.9,662.7 L556.9,662.1 L561.8,661.4 L566.8,660.6 L571.8,659.7 L576.7,658.8 L581.7,657.9 L586.6,656.8 L591.5,655.7 L596.4,654.5 L601.3,653.3 L606.2,652.0 L611.0,650.7 L615.9,649.3 L620.7,647.8 L625.5,646.2 L630.3,644.6 L635.0,643.0 L639.8,641.3 L644.5,639.5 L649.2,637.7 L653.8,635.8 L658.5,633.8 L663.1,631.8 L667.7,629.7 L672.2,627.6 L676.8,625.4 L681.3,623.2 L685.8,620.9 L690.2,618.5 L694.6,616.1 L699.0,613.7 L703.4,611.2 L707.7,608.6 L712.0,606.0 L716.2,603.3 L720.4,600.6 L724.6,597.8 L728.8,595.0 L732.9,592.1 L736.9,589.2 L741.0,586.2 L745.0,583.2 L748.9,580.1 L752.8,576.9 L756.7,573.8 L760.5,570.5 L764.3,567.3 L768.1,563.9 L771.8,560.6 L775.4,557.1 L779.0,553.7 L782.6,550.2 L786.1,546.6 L789.5,543.0 L793.0,539.4 L796.3,535.7 L799.6,531.9 L802.9,528.2 L806.1,524.3 L809.3,520.5 L812.4,516.6 L815.4,512.6 L818.4,508.6 L821.3,504.6 L824.2,500.5 L827.0,496.4 L829.8,492.3 L832.5,488.1 L835.1,483.8 L837.7,479.6 L840.3,475.2 L842.7,470.9 L845.1,466.5 L847.4,462.1 L849.7,457.6 L851.9,453.1 L854.1,448.6 L856.1,444.0 L858.2,439.4 L860.1,434.8 L862.0,430.1 L863.8,425.4 L865.5,420.7 L867.2,415.9 L868.7,411.1 L870.3,406.2 L871.7,401.4 L873.1,396.5 L874.4,391.5 L875.6,386.6 L876.7,381.6 L877.8,376.6 L878.8,371.5"/>
<path d="M527.5,676.5 L524.8,681.0 L522.2,685.5 L519.6,689.9 L517.0,694.4 L514.4,698.8 L511.9,703.2 L509.3,707.7 L506.8,712.1 L504.4,716.5 L501.9,720.9 L499.5,725.3 L497.1,729.6 L494.7,734.0 L492.3,738.4 L489.9,742.8 L487.6,747.1 L485.3,751.5 L483.0,755.9 L480.8,760.2 L478.5,764.6 L476.3,769.0 L474.1,773.3 L471.9,777.7 L469.7,782.1 L467.5,786.5 L465.4,790.9 L463.3,795.3 L461.2,799.7 L459.1,804.1 L457.0,808.5 L454.9,813.0 L452.9,817.4 L450.9,821.9 L448.9,826.4 L446.9,830.9 L444.9,835.4 L442.9,839.9 L441.0,844.4 L439.0,849.0 L437.1,853.5 L435.2,858.1 L433.3,862.7 L431.4,867.4 L429.5,872.0 L427.6,876.7 L425.8,881.4 L423.9,886.1 L422.1,890.8 L420.3,895.6 L418.5,900.4 L416.7,905.2 L414.9,910.1 L413.1,915.0 L411.3,919.9 L409.6,924.8 L407.8,929.8 L406.1,934.8 L404.4,939.8 L402.8,944.8 L401.3,949.9 L399.8,954.9 L398.4,960.0 L397.1,965.0 L395.9,970.1 L394.8,975.1 L393.8,980.1 L393.0,985.1 L392.3,990.1 L391.8,995.1 L391.4,1000.0 L391.3,1004.9 L391.3,1009.8 L391.5,1014.6 L391.9,1019.4 L392.6,1024.1 L393.5,1028.8 L394.6,1033.4 L396.0,1037.9 L397.6,1042.4 L399.5,1046.9 L401.7,1051.2 L404.2,1055.4 L407.0,1059.5 L410.0,1063.4 L413.2,1067.1 L416.7,1070.5 L420.5,1073.6 L424.5,1076.4 L428.6,1078.8 L433.0,1080.8 L437.6,1082.3 L442.4,1083.5 L447.2,1084.3 L452.2,1084.8 L457.3,1085.0 L462.4,1085.1 L467.5,1085.0 L472.5,1084.8 L477.6,1084.6 L482.6,1084.2 L487.6,1083.7 L492.6,1083.2 L497.6,1082.5 L502.5,1081.8 L507.4,1081.0 L512.3,1080.0 L517.2,1079.0 L522.0,1078.0 L526.8,1076.8 L531.6,1075.5 L536.4,1074.2 L541.1,1072.8 L545.8,1071.3 L550.5,1069.8 L555.2,1068.1 L559.8,1066.4 L564.5,1064.6 L569.1,1062.8 L573.6,1060.9 L578.2,1058.9 L582.7,1056.8 L587.2,1054.7 L591.7,1052.5 L596.1,1050.3 L600.6,1047.9 L605.0,1045.6 L609.3,1043.1 L613.7,1040.7 L618.0,1038.1 L622.3,1035.5 L626.6,1032.9 L630.8,1030.1 L635.1,1027.4 L639.3,1024.6 L643.4,1021.7 L647.6,1018.8 L651.7,1015.9 L655.8,1012.9 L659.9,1009.9 L663.9,1006.8 L667.9,1003.7 L671.9,1000.5 L675.9,997.3 L679.9,994.1 L683.8,990.8 L687.7,987.5 L691.5,984.2 L695.4,980.8 L699.2,977.4 L703.0,974.0 L706.7,970.6 L710.5,967.1 L714.2,963.6 L717.8,960.1 L721.5,956.6 L725.1,953.0 L728.7,949.4 L732.3,945.8 L735.8,942.2 L739.4,938.6 L742.9,934.9 L746.3,931.3 L749.8,927.6 L753.2,923.9 L756.6,920.3 L759.9,916.6 L763.3,912.8 L766.6,909.1 L769.9,905.4 L773.1,901.6 L776.4,897.9 L779.6,894.1 L782.8,890.3 L785.9,886.5 L789.1,882.7 L792.2,878.9 L795.3,875.0 L798.4,871.2 L801.4,867.3 L804.5,863.4 L807.5,859.5 L810.5,855.6 L813.4,851.7 L816.4,847.7 L819.3,843.7 L822.3,839.7 L825.2,835.7 L828.0,831.7 L830.9,827.7 L833.8,823.6 L836.6,819.5 L839.4,815.4 L842.2,811.3 L845.0,807.1 L847.8,803.0 L850.5,798.8 L853.3,794.6 L856.0,790.4 L858.7,786.1 L861.4,781.8 L864.1,777.5 L866.8,773.2 L869.5,768.9 L872.1,764.5 L874.7,760.1 L877.4,755.7 L880.0,751.3"/>
<path d="M531.5,678.5 L529.7,683.4 L527.8,688.3 L526.0,693.1 L524.2,697.9 L522.4,702.7 L520.6,707.5 L518.8,712.2 L517.0,716.9 L515.2,721.6 L513.4,726.3 L511.6,731.0 L509.8,735.6 L508.0,740.3 L506.3,744.9 L504.5,749.5 L502.8,754.1 L501.1,758.7 L499.4,763.3 L497.7,767.9 L496.0,772.5 L494.3,777.1 L492.7,781.7 L491.0,786.3 L489.4,791.0 L487.8,795.6 L486.2,800.2 L484.7,804.8 L483.1,809.5 L481.6,814.2 L480.1,818.8 L478.6,823.5 L477.2,828.2 L475.8,833.0 L474.4,837.7 L473.0,842.5 L471.6,847.3 L470.3,852.1 L469.0,857.0 L467.7,861.9 L466.5,866.8 L465.3,871.8 L464.1,876.8 L463.0,881.8 L461.8,886.9 L460.8,892.0 L459.7,897.1 L458.7,902.3 L457.7,907.6 L456.8,912.8 L456.0,918.1 L455.3,923.3 L454.7,928.6 L454.3,933.8 L454.1,938.9 L454.0,944.0 L454.2,949.0 L454.6,953.9 L455.3,958.7 L456.3,963.4 L457.6,967.9 L459.2,972.3 L461.1,976.5 L463.5,980.5 L466.2,984.4 L469.4,988.0 L472.9,991.3 L476.7,994.3 L480.9,996.8 L485.2,998.9 L489.8,1000.4 L494.5,1001.3 L499.3,1001.7 L504.2,1001.7 L509.1,1001.3 L514.1,1000.7 L519.0,999.8 L524.0,998.9 L528.9,997.8 L533.8,996.6 L538.7,995.4 L543.5,994.1 L548.3,992.6 L553.1,991.1 L557.8,989.5 L562.5,987.8 L567.2,986.0 L571.9,984.1 L576.5,982.2 L581.1,980.2 L585.6,978.1 L590.1,975.9 L594.6,973.6 L599.1,971.3 L603.5,968.9 L607.9,966.4 L612.2,963.9 L616.6,961.3 L620.8,958.6 L625.1,955.9 L629.3,953.1 L633.5,950.2 L637.6,947.3 L641.7,944.3 L645.8,941.3 L649.8,938.2 L653.8,935.1 L657.7,931.9 L661.6,928.6 L665.5,925.4 L669.3,922.0 L673.1,918.7 L676.9,915.2 L680.6,911.8 L684.3,908.3 L687.9,904.8 L691.5,901.2 L695.0,897.6 L698.5,894.0 L702.0,890.3 L705.4,886.6 L708.7,882.9 L712.1,879.1 L715.4,875.4 L718.6,871.6 L721.8,867.7 L725.0,863.9 L728.1,860.0 L731.2,856.1 L734.2,852.2 L737.2,848.2 L740.2,844.3 L743.1,840.3 L746.0,836.2 L748.9,832.2 L751.7,828.1 L754.5,824.0 L757.3,819.9 L760.0,815.8 L762.7,811.6 L765.4,807.5 L768.1,803.3 L770.7,799.0 L773.3,794.8 L775.9,790.5 L778.4,786.3 L780.9,782.0 L783.4,777.6 L785.9,773.3 L788.4,768.9 L790.8,764.6 L793.2,760.2 L795.6,755.8 L798.0,751.3 L800.4,746.9 L802.7,742.4 L805.0,737.9 L807.3,733.4 L809.6,728.9 L811.9,724.4 L814.2,719.8 L816.5,715.3 L818.7,710.7"/>
<path d="M521.7,665.2 L523.4,660.5 L525.1,655.8 L527.0,651.1 L528.8,646.5 L530.8,641.9 L532.8,637.3 L534.9,632.8 L537.0,628.3 L539.2,623.8 L541.5,619.4 L543.8,615.0 L546.2,610.6 L548.7,606.2 L551.2,601.9 L553.7,597.7 L556.3,593.4 L559.0,589.2 L561.7,585.0 L564.5,580.9 L567.3,576.8 L570.2,572.7 L573.1,568.7 L576.1,564.7 L579.1,560.7 L582.2,556.8 L585.3,552.9 L588.5,549.0 L591.7,545.2 L594.9,541.4 L598.2,537.7 L601.6,534.0 L604.9,530.3 L608.4,526.6 L611.8,523.0 L615.3,519.5 L618.9,515.9 L622.4,512.5 L626.1,509.0 L629.7,505.6 L633.4,502.2 L637.1,498.9 L640.9,495.6 L644.7,492.3 L648.5,489.1 L652.3,485.9 L656.2,482.7 L660.1,479.6 L664.1,476.5 L668.1,473.5 L672.1,470.5 L676.1,467.5 L680.2,464.6 L684.3,461.7 L688.4,458.8 L692.6,456.0 L696.7,453.2 L700.9,450.5 L705.2,447.8 L709.4,445.1 L713.7,442.4 L718.0,439.8 L722.3,437.3 L726.6,434.7 L731.0,432.2 L735.4,429.8 L739.8,427.3 L744.2,425.0 L748.7,422.6 L753.1,420.3 L757.6,418.0 L762.1,415.8 L766.6,413.5 L771.2,411.4 L775.7,409.2 L780.3,407.1 L784.9,405.0 L789.5,403.0 L794.1,401.0 L798.7,399.0 L803.3,397.1 L808.0,395.2 L812.7,393.3 L817.3,391.5 L822.0,389.7 L826.7,387.9 L831.4,386.2 L836.1,384.5 L840.8,382.9 L845.6,381.2 L850.3,379.6 L855.0,378.1 L859.8,376.6 L864.5,375.1 L869.3,373.6 L874.0,372.2 L878.8,370.8" stroke-width="4.3" stroke-dasharray="4.2 3.8"/>
<path d="M263.3,406.7 L1138.5,643.2"/>
<path d="M642.8,448.8 C627,453.5 611,471 613.6,489 L615,500"/>
<path d="M564.2,490.2 C553,499 543,514 558.5,529.5"/>
<path d="M281.5,441.5 C307,441 324,425 322.5,405 C322,398 320,393 317,388" stroke-width="4"/>
</g>
<path d="M304.5,380 L325.5,387.5 L311.5,401.5 Z" fill="#000"/>
<path d="M468.9,192.2 L935.4,859.1" fill="none" stroke="#000" stroke-width="8.6" filter="url(#fuzz)"/>
<path d="M469.8,193.5 L934.6,858" fill="none" stroke="#000" stroke-width="6.2" filter="url(#rough)"/>
<g fill="none" stroke="#000" stroke-width="3.5" stroke-linecap="round">
<path d="M76.8,491.6 L8.8,527.2 L75.8,556.8"/>
<path d="M65.3,498.6 Q77,524.5 64.8,550.8"/>
</g>
<g font-family="'Liberation Sans', sans-serif" font-weight="bold" fill="#000" opacity="0.999">
<text x="348.3" y="160.7" font-size="26" textLength="177.5" lengthAdjust="spacingAndGlyphs">Magnetic axis</text>
<text x="96.8" y="375.9" font-size="23" textLength="176.8" lengthAdjust="spacingAndGlyphs">Rotational axis</text>
<text x="595.8" y="459.8" font-size="30">β</text>
<text x="527.6" y="512.2" font-size="24.8">i</text>
</g>
</svg>
</body></html>
